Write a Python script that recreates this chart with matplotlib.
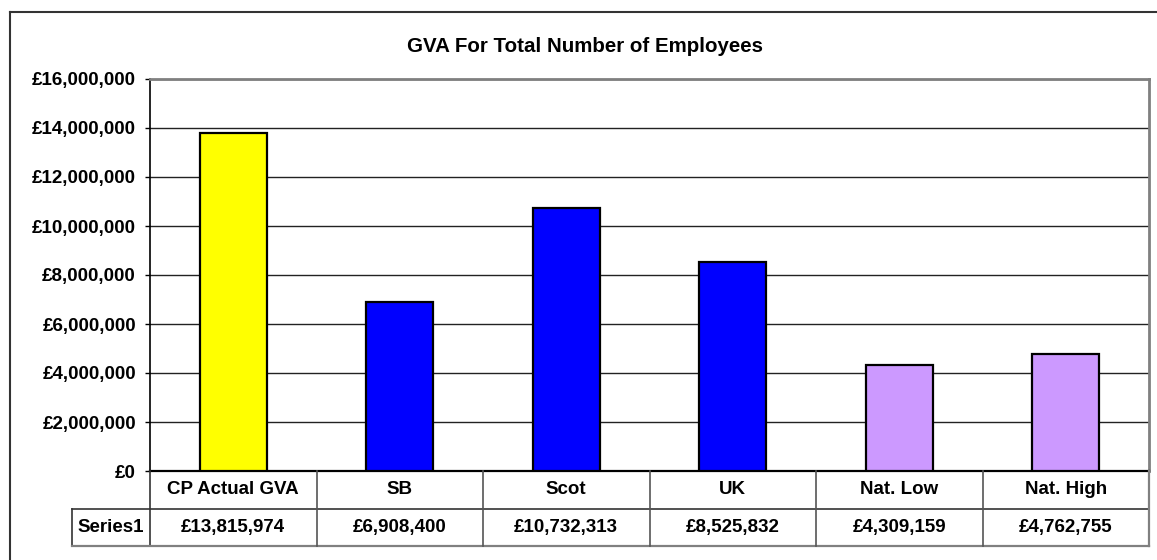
import matplotlib
matplotlib.use("Agg")
import matplotlib.pyplot as plt
from matplotlib.lines import Line2D
from matplotlib.ticker import FuncFormatter, MultipleLocator
import matplotlib.transforms as mtransforms

categories = ["CP Actual GVA", "SB", "Scot", "UK", "Nat. Low", "Nat. High"]
values = [13815974, 6908400, 10732313, 8525832, 4309159, 4762755]
bar_colors = ["#FFFF00", "#0000FF", "#0000FF", "#0000FF", "#CC99FF", "#CC99FF"]
series_name = "Series1"
title = "GVA For Total Number of Employees"

W, H = 1157, 560
plt.rcParams["font.family"] = ["Liberation Sans", "DejaVu Sans"]
plt.rcParams["font.weight"] = "bold"

fig = plt.figure(figsize=(W / 100, H / 100), dpi=100)
fig.patch.set_facecolor("white")


def fx(px):
    return px / W


def fy(py):
    return 1 - py / H


# plot area in pixel coordinates
L, R, T, B = 150, 1149, 79, 471
ax = fig.add_axes([fx(L), fy(B), fx(R) - fx(L), fy(T) - fy(B)])

x = list(range(len(categories)))
ax.bar(x, values, width=0.4, color=bar_colors, edgecolor="black",
       linewidth=1.6, zorder=3)

ax.set_xlim(-0.5, len(categories) - 0.5)
ax.set_ylim(0, 16000000)
ax.yaxis.set_major_locator(MultipleLocator(2000000))
ax.yaxis.set_major_formatter(FuncFormatter(lambda v, p: f"£{int(v):,}"))
ax.grid(axis="y", color="#222222", linewidth=1.0, zorder=0)
ax.set_xticks([])
ax.tick_params(axis="y", length=3.6, width=1, color="black", pad=6.5,
               labelsize=13.5)
for lab in ax.get_yticklabels():
    lab.set_fontweight("bold")

ax.spines["left"].set_color("black")
ax.spines["left"].set_linewidth(1.2)
ax.spines["bottom"].set_color("black")
ax.spines["bottom"].set_linewidth(1.6)
ax.spines["top"].set_color("#808080")
ax.spines["top"].set_linewidth(2)
ax.spines["right"].set_color("#808080")
ax.spines["right"].set_linewidth(2)

fig.text(fx(585), fy(47), title, ha="center", va="center",
         fontsize=14.8, fontweight="bold")

# data table under the plot
row1_bot, row2_bot = 509, 546
name_left = 72
blend = mtransforms.blended_transform_factory(ax.transData, fig.transFigure)
line_kw = dict(transform=fig.transFigure, color="#333333", linewidth=1.2)
gray_kw = dict(transform=fig.transFigure, color="#808080", linewidth=1.6)

# left axis line continues through the table
fig.add_artist(Line2D([fx(L), fx(L)], [fy(B), fy(row2_bot)], **line_kw))
# row separator
fig.add_artist(Line2D([fx(name_left), fx(R)], [fy(row1_bot), fy(row1_bot)], **line_kw))
# series name cell left edge
fig.add_artist(Line2D([fx(name_left), fx(name_left)], [fy(row1_bot), fy(row2_bot)], **line_kw))
# table bottom and right edges
fig.add_artist(Line2D([fx(name_left), fx(R)], [fy(row2_bot), fy(row2_bot)], **gray_kw))
fig.add_artist(Line2D([fx(R), fx(R)], [fy(B), fy(row2_bot)], **gray_kw))
# column separators
for i in range(1, len(categories)):
    fig.add_artist(Line2D([i - 0.5, i - 0.5], [fy(B), fy(row2_bot)],
                          transform=blend, color="#555555", linewidth=1.2))

for i, (cat, val) in enumerate(zip(categories, values)):
    fig.text(i, fy((B + row1_bot) / 2), cat, transform=blend, ha="center",
             va="center", fontsize=13.5, fontweight="bold")
    fig.text(i, fy((row1_bot + row2_bot) / 2), f"£{val:,}", transform=blend,
             ha="center", va="center", fontsize=13.5, fontweight="bold")

fig.text(fx((name_left + L) / 2), fy((row1_bot + row2_bot) / 2), series_name,
         ha="center", va="center", fontsize=13.5, fontweight="bold")

# chart area frame
frame_kw = dict(transform=fig.transFigure, color="#333333", linewidth=1.5)
fig.add_artist(Line2D([fx(10), fx(10)], [fy(12), 0], **frame_kw))
fig.add_artist(Line2D([fx(10), 1], [fy(12), fy(12)], **frame_kw))

fig.savefig("out.png", dpi=100, facecolor="white")
